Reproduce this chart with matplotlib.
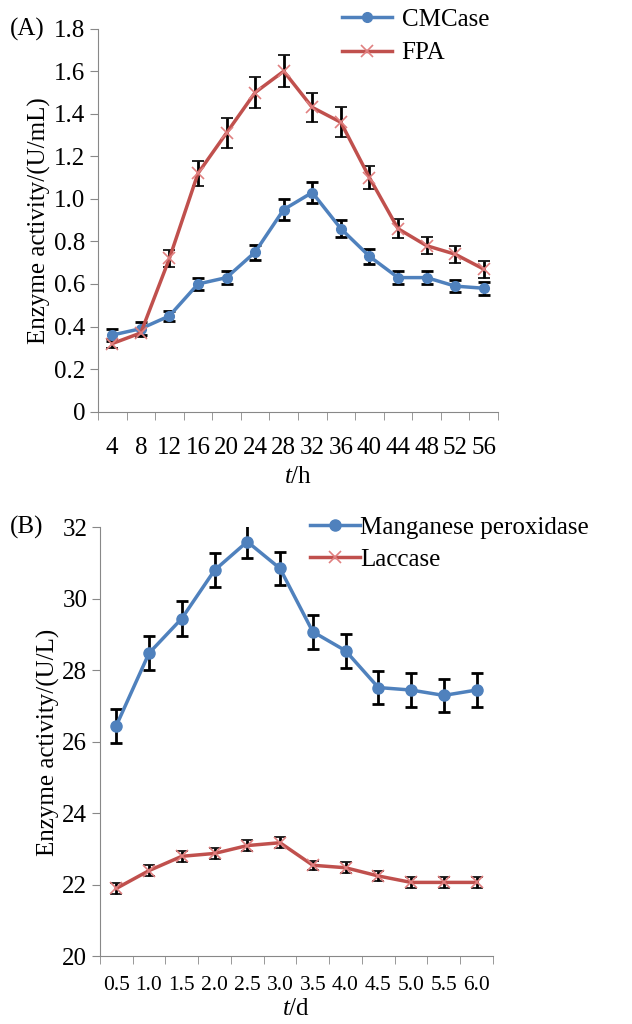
import matplotlib
matplotlib.use("Agg")
import matplotlib.pyplot as plt
import numpy as np

plt.rcParams['font.family'] = ['Liberation Serif', 'DejaVu Serif']
plt.rcParams['mathtext.fontset'] = 'custom'
plt.rcParams['mathtext.it'] = 'Liberation Serif:italic'
plt.rcParams['mathtext.rm'] = 'Liberation Serif'

# panel A data
hours = ["4", "8", "12", "16", "20", "24", "28", "32", "36", "40", "44", "48", "52", "56"]
cmcase = [0.36, 0.39, 0.45, 0.60, 0.63, 0.75, 0.95, 1.03, 0.86, 0.73, 0.63, 0.63, 0.59, 0.58]
cmcase_err = [0.03, 0.03, 0.025, 0.03, 0.03, 0.035, 0.05, 0.05, 0.04, 0.035, 0.03, 0.03, 0.03, 0.03]
fpa = [0.32, 0.37, 0.72, 1.12, 1.31, 1.50, 1.60, 1.43, 1.36, 1.10, 0.86, 0.78, 0.74, 0.67]
fpa_err = [0.02, 0.02, 0.04, 0.06, 0.07, 0.075, 0.075, 0.07, 0.07, 0.055, 0.045, 0.04, 0.04, 0.04]

# panel B data
days = ["0.5", "1.0", "1.5", "2.0", "2.5", "3.0", "3.5", "4.0", "4.5", "5.0", "5.5", "6.0"]
mnp = [26.45, 28.48, 29.45, 30.8, 31.6, 30.85, 29.08, 28.55, 27.52, 27.45, 27.3, 27.45]
mnp_err = [0.47, 0.47, 0.5, 0.47, 0.47, 0.47, 0.47, 0.47, 0.47, 0.47, 0.47, 0.47]
laccase = [21.9, 22.4, 22.8, 22.88, 23.1, 23.18, 22.55, 22.48, 22.25, 22.07, 22.07, 22.07]
laccase_err = [0.15, 0.15, 0.15, 0.15, 0.15, 0.15, 0.12, 0.15, 0.15, 0.15, 0.15, 0.15]

blue = '#4F81BD'
red = '#C0504D'
fs = 18

fig = plt.figure(figsize=(6.32, 10.24), dpi=100)
axA = fig.add_axes([0.155, 0.598, 0.633, 0.374])
axB = fig.add_axes([0.158, 0.066, 0.622, 0.419])


def style(ax, labels, xfs, xpad):
    n = len(labels)
    ax.set_xlim(-0.5, n - 0.5)
    ax.set_xticks(np.arange(n))
    ax.set_xticklabels(labels, fontsize=xfs)
    ax.set_xticks(np.arange(n + 1) - 0.5, minor=True)
    ax.tick_params(axis='x', which='major', length=0, pad=xpad)
    ax.tick_params(axis='x', which='minor', length=6, color='#888888', direction='out')
    ax.tick_params(axis='y', length=6, color='#888888', direction='out', labelsize=fs, pad=3)
    for s in ['top', 'right']:
        ax.spines[s].set_visible(False)
    for s in ['left', 'bottom']:
        ax.spines[s].set_color('#888888')


xa = np.arange(len(hours))
axA.errorbar(xa, cmcase, yerr=cmcase_err, color=blue, lw=2.5, marker='o', ms=7,
             ecolor='black', elinewidth=2, capsize=4, capthick=2, label='CMCase', zorder=3)
axA.errorbar(xa, fpa, yerr=fpa_err, color=red, lw=2.5, marker='x', ms=8, mec='#E08080',
             mew=1.2, ecolor='black', elinewidth=2, capsize=4, capthick=2, label='FPA', zorder=3)
style(axA, hours, fs, 18)
axA.set_ylim(0, 1.8)
axA.set_yticks(np.arange(0, 1.81, 0.2))
axA.set_yticklabels(['0'] + ['%.1f' % v for v in np.arange(0.2, 1.81, 0.2)])
axA.set_ylabel('Enzyme activity/(U/mL)', fontsize=fs, labelpad=2)
axA.set_xlabel(r'$t$/h', fontsize=fs, labelpad=5)
hA, lA = axA.get_legend_handles_labels()
axA.legend([h[0] for h in hA], lA, loc='upper left', bbox_to_anchor=(0.505, 1.014),
           bbox_transform=fig.transFigure, frameon=False, fontsize=fs, handlelength=2.0,
           handletextpad=0.4, labelspacing=0.45)
fig.text(0.015, 0.971, '(A)', fontsize=fs, va='center')

xb = np.arange(len(days))
axB.errorbar(xb, mnp, yerr=mnp_err, color=blue, lw=2.5, marker='o', ms=8,
             ecolor='black', elinewidth=2, capsize=4, capthick=2, label='Manganese peroxidase', zorder=3)
axB.errorbar(xb, laccase, yerr=laccase_err, color=red, lw=2.5, marker='x', ms=8, mec='#E08080',
             mew=1.2, ecolor='black', elinewidth=2, capsize=4, capthick=2, label='Laccase', zorder=3)
style(axB, days, 15.5, 14)
axB.set_ylim(20, 32)
axB.set_yticks(np.arange(20, 33, 2))
axB.set_ylabel('Enzyme activity/(U/L)', fontsize=fs, labelpad=2)
axB.set_xlabel(r'$t$/d', fontsize=fs, labelpad=2)
hB, lB = axB.get_legend_handles_labels()
axB.legend([h[0] for h in hB], lB, loc='upper left', bbox_to_anchor=(0.455, 0.518),
           bbox_transform=fig.transFigure, frameon=False, fontsize=fs, handlelength=2.0,
           handletextpad=0.0, labelspacing=0.4)
fig.text(0.015, 0.485, '(B)', fontsize=fs, va='center')

fig.savefig('out.png', dpi=100)
